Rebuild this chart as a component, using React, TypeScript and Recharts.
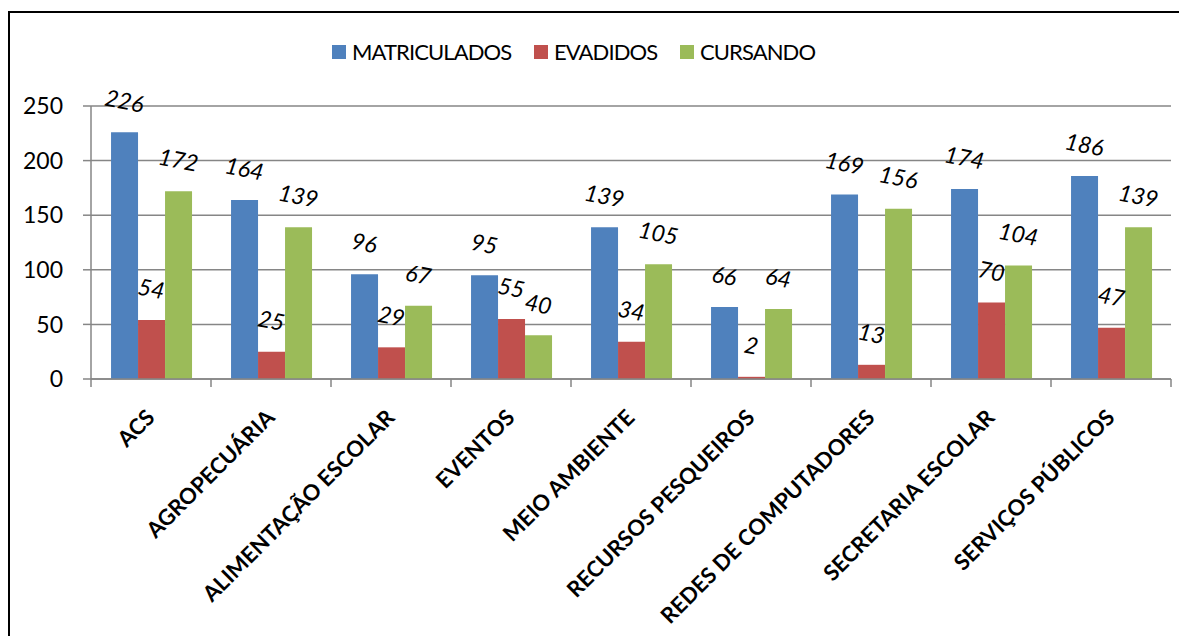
import React from "react"
import { BarChart, Bar, XAxis, YAxis, CartesianGrid, LabelList } from "recharts"

const categories = [
    "ACS",
    "AGROPECUÁRIA",
    "ALIMENTAÇÃO ESCOLAR",
    "EVENTOS",
    "MEIO AMBIENTE",
    "RECURSOS PESQUEIROS",
    "REDES DE COMPUTADORES",
    "SECRETARIA ESCOLAR",
    "SERVIÇOS PÚBLICOS",
]
const matriculados = [226, 164, 96, 95, 139, 66, 169, 174, 186]
const evadidos = [54, 25, 29, 55, 34, 2, 13, 70, 47]
const cursando = [172, 139, 67, 40, 105, 64, 156, 104, 139]
const yTicks = [0, 50, 100, 150, 200, 250]

const series = [
    { key: "matriculados", name: "MATRICULADOS", color: "#4F81BD" },
    { key: "evadidos", name: "EVADIDOS", color: "#C0504D" },
    { key: "cursando", name: "CURSANDO", color: "#9BBB59" },
]

const data = categories.map((name, i) => ({
    name,
    matriculados: matriculados[i],
    evadidos: evadidos[i],
    cursando: cursando[i],
}))

const FONT = "Lato, 'Open Sans', sans-serif"
const AXIS = "#868686"
const W = 1171
const H = 628
const MARGIN = { top: 98, right: 8, left: 23, bottom: 57 }
const Y_W = 60
const BAND = (W - MARGIN.left - MARGIN.right - Y_W) / categories.length

function XTick(props: any) {
    const { x, y, payload, index } = props
    const half = BAND / 2
    const tx = x + 5
    const ty = y + 40
    return (
        <g>
            <line x1={x - half} y1={y} x2={x - half} y2={y + 8} stroke={AXIS} strokeWidth={1.5} />
            {index === categories.length - 1 && (
                <line x1={x + half} y1={y} x2={x + half} y2={y + 8} stroke={AXIS} strokeWidth={1.5} />
            )}
            <text
                x={tx}
                y={ty}
                transform={`rotate(-45, ${tx}, ${ty})`}
                textAnchor="end"
                fontWeight={700}
                fontSize={22}
                fill="#000"
                fontFamily={FONT}
            >
                {payload.value}
            </text>
        </g>
    )
}

function ValueLabel(props: any) {
    const { x, y, width, value } = props
    const cx = Number(x) + Number(width) / 2
    const cy = Number(y) - 32
    return (
        <text
            x={cx}
            y={cy}
            transform={`rotate(11, ${cx}, ${cy})`}
            textAnchor="middle"
            dominantBaseline="central"
            fontStyle="italic"
            fontSize={23}
            fill="#000"
            fontFamily={FONT}
        >
            {value}
        </text>
    )
}

const legendWidths = [202, 146, 140]

export default function App() {
    return (
        <div style={{ position: "relative", width: W, height: H, overflow: "hidden", fontFamily: FONT }}>
            <div
                style={{
                    position: "absolute",
                    left: 0,
                    top: 3,
                    width: 1300,
                    height: 800,
                    border: "2px solid #000",
                }}
            />
            <div style={{ position: "absolute", left: 324, top: 30, display: "flex", alignItems: "center" }}>
                {series.map((s, i) => (
                    <div key={s.key} style={{ width: legendWidths[i], display: "flex", alignItems: "center" }}>
                        <span style={{ width: 14, height: 14, background: s.color, marginRight: 6 }} />
                        <span style={{ fontSize: 22, letterSpacing: -0.9, color: "#000" }}>{s.name}</span>
                    </div>
                ))}
            </div>
            <div style={{ position: "absolute", left: 0, top: 0 }}>
                <BarChart
                    width={W}
                    height={H}
                    data={data}
                    margin={MARGIN}
                    barCategoryGap="16.7%"
                    barGap={0}
                >
                    <CartesianGrid vertical={false} stroke={AXIS} strokeWidth={1.5} />
                    <XAxis
                        dataKey="name"
                        interval={0}
                        height={200}
                        tickLine={false}
                        tickSize={0}
                        tickMargin={0}
                        axisLine={{ stroke: AXIS, strokeWidth: 1.5 }}
                        tick={<XTick />}
                    />
                    <YAxis
                        width={Y_W}
                        domain={[0, 250]}
                        ticks={yTicks}
                        tickSize={8}
                        tickMargin={20}
                        axisLine={{ stroke: AXIS, strokeWidth: 1.5 }}
                        tickLine={{ stroke: AXIS, strokeWidth: 1.5 }}
                        tick={{ fill: "#000", fontSize: 23, fontFamily: FONT }}
                    />
                    {series.map((s) => (
                        <Bar key={s.key} dataKey={s.key} name={s.name} fill={s.color} isAnimationActive={false}>
                            <LabelList dataKey={s.key} content={<ValueLabel />} />
                        </Bar>
                    ))}
                </BarChart>
            </div>
        </div>
    )
}
